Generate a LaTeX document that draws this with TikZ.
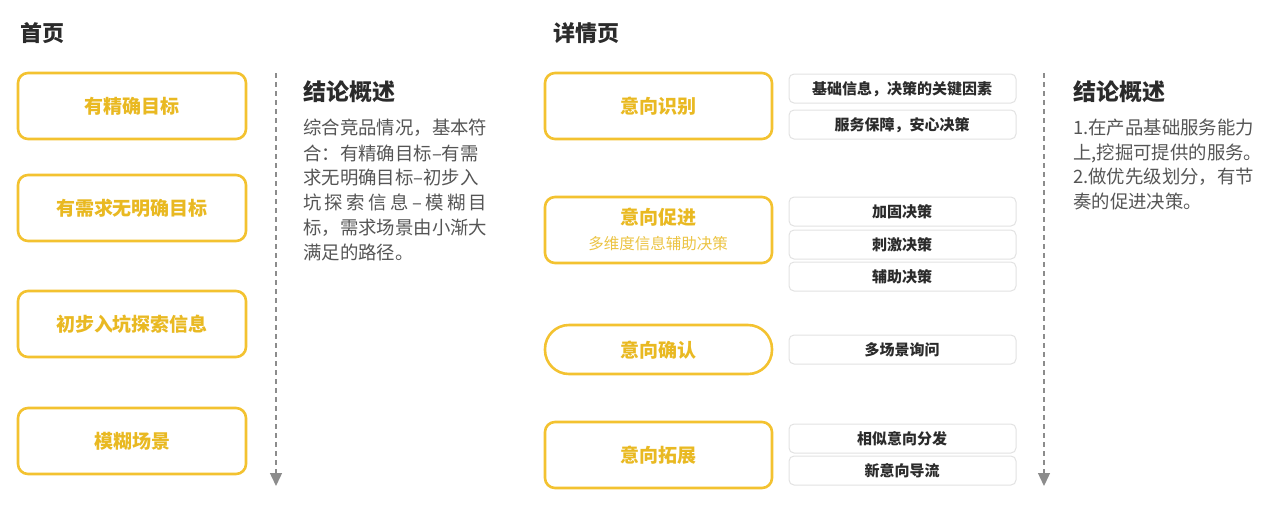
\documentclass[tikz,border=0pt]{standalone}
\usepackage{fontspec}
\setmainfont{Noto Sans CJK SC}
\usetikzlibrary{arrows.meta}
\definecolor{goldline}{HTML}{F3C230}
\definecolor{goldtext}{HTML}{E9B922}
\definecolor{greyline}{HTML}{E2E2E2}
\definecolor{darktext}{HTML}{2B2B2B}
\definecolor{bodytext}{HTML}{555555}
\begin{document}
\begin{tikzpicture}[x=1pt,y=-1pt,
  mainbox/.style={draw=goldline,line width=2.6pt,rounded corners=10pt,fill=white},
  subbox/.style={draw=greyline,line width=1pt,rounded corners=5pt,fill=white},
  boxlabel/.style={text=goldtext,font=\fontsize{19}{22}\selectfont\bfseries},
  sublabel/.style={text=darktext,font=\fontsize{15}{18}\selectfont\bfseries},
  heading/.style={anchor=west,inner sep=0pt,text=darktext,font=\fontsize{22}{25}\selectfont\bfseries},
  bodyline/.style={anchor=west,inner sep=0pt,text=bodytext,font=\fontsize{18.4}{21}\selectfont},
  timeline/.style={draw=black!45,line width=1.4pt,dash pattern=on 5pt off 4pt,-{Triangle[length=13pt,width=12pt]}}]
\useasboundingbox (0,0) rectangle (1280,515);
% left column
\node[heading] (home) at (20,33) {首页};
\draw[mainbox] (18,73) rectangle (246,139);
\node[boxlabel] (goal) at (132,106) {有精确目标};
\draw[mainbox] (18,175) rectangle (246,241);
\node[boxlabel] (need) at (132,208) {有需求无明确目标};
\draw[mainbox] (18,291) rectangle (246,357);
\node[boxlabel] (explore) at (132,324) {初步入坑探索信息};
\draw[mainbox] (18,408) rectangle (246,474);
\node[boxlabel] (vague) at (132,441) {模糊场景};
\coordinate (ltop) at (276,73);
\coordinate (lend) at (276,486);
\draw[timeline] (ltop) -- (lend);
\node[heading,font=\fontsize{23}{26}\selectfont\bfseries] (lsum) at (303,92) {结论概述};
\node[bodyline] at (303,128) {综合竞品情况，基本符};
\node[bodyline] at (303,153) {合：有精确目标–有需};
\node[bodyline] at (303,178) {求无明确目标–初步入};
\node[bodyline] at (303,203) {\makebox[184pt][s]{坑\hfil 探\hfil 索\hfil 信\hfil 息\hfil –\hfil 模\hfil 糊\hfil 目}};
\node[bodyline] at (303,228) {标，需求场景由小渐大};
\node[bodyline] at (303,252) {满足的路径。};
% right column
\node[heading] (detail) at (553,33) {详情页};
\draw[mainbox] (545,73) rectangle (772,139);
\node[boxlabel] (identify) at (658,106) {意向识别};
\draw[mainbox] (545,197) rectangle (772,263);
\node[boxlabel] (promote) at (658,217) {意向促进};
\node[text=goldtext!85,font=\fontsize{15.5}{18}\selectfont] (multi) at (658,244) {多维度信息辅助决策};
\draw[mainbox,rounded corners=24pt] (545,325) rectangle (772,374);
\node[boxlabel] (confirm) at (658,350) {意向确认};
\draw[mainbox] (545,422) rectangle (772,488);
\node[boxlabel] (expand) at (658,455) {意向拓展};
% sub items
\draw[subbox] (789,74) rectangle (1016,103);
\node[sublabel] (basic) at (902,89) {基础信息，决策的关键因素};
\draw[subbox] (789,110) rectangle (1016,139);
\node[sublabel] (service) at (902,125) {服务保障，安心决策};
\draw[subbox] (789,197) rectangle (1016,226);
\node[sublabel] (firm) at (902,212) {加固决策};
\draw[subbox] (789,230) rectangle (1016,259);
\node[sublabel] (spur) at (902,245) {刺激决策};
\draw[subbox] (789,262) rectangle (1016,291);
\node[sublabel] (assist) at (902,277) {辅助决策};
\draw[subbox] (789,335) rectangle (1016,364);
\node[sublabel] (ask) at (902,350) {多场景询问};
\draw[subbox] (789,424) rectangle (1016,453);
\node[sublabel] (similar) at (902,439) {相似意向分发};
\draw[subbox] (789,456) rectangle (1016,485);
\node[sublabel] (guide) at (902,471) {新意向导流};
\coordinate (rtop) at (1044,73);
\coordinate (rend) at (1044,486);
\draw[timeline] (rtop) -- (rend);
\node[heading,font=\fontsize{23}{26}\selectfont\bfseries] (rsum) at (1073,92) {结论概述};
\node[bodyline] at (1073,128) {1.在产品基础服务能力};
\node[bodyline] at (1073,153) {上,挖掘可提供的服务。};
\node[bodyline] at (1073,177) {2.做优先级划分，有节};
\node[bodyline] at (1073,202) {奏的促进决策。};
\end{tikzpicture}
\end{document}
